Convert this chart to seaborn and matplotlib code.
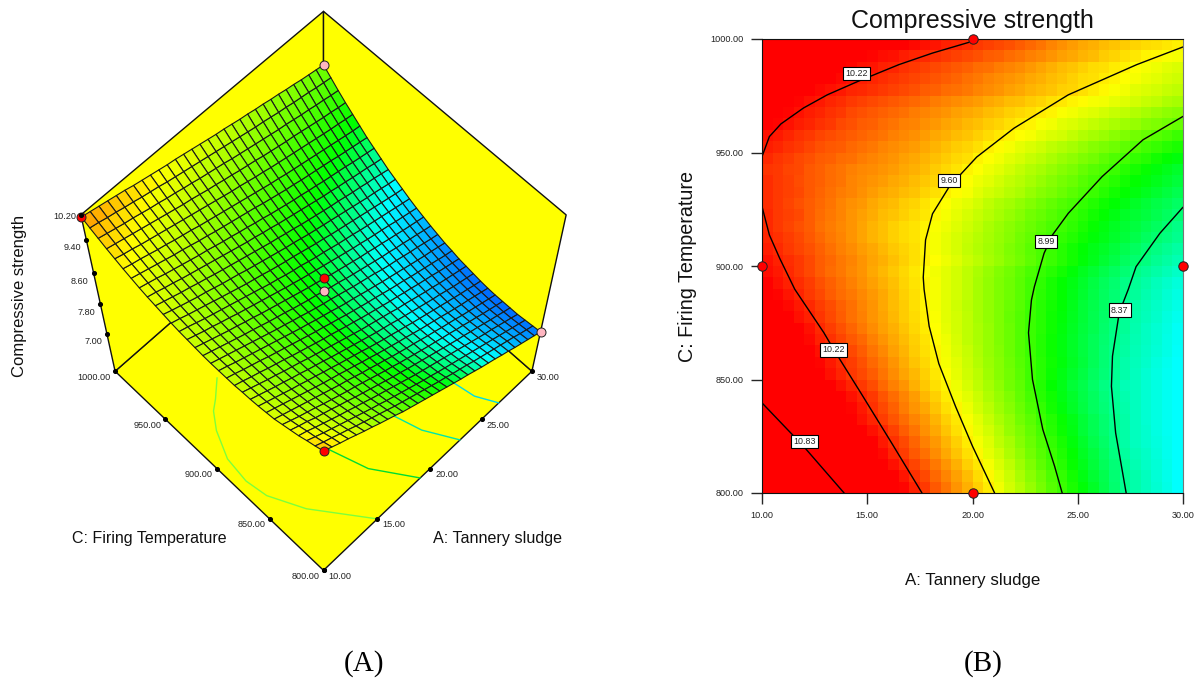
import matplotlib
matplotlib.use('Agg')
import numpy as np
import pandas as pd
import matplotlib.pyplot as plt
from matplotlib.colors import LinearSegmentedColormap, Normalize
from mpl_toolkits.mplot3d import proj3d
from mpl_toolkits.mplot3d.art3d import Poly3DCollection
import seaborn as sns

sns.set_style("white")
plt.rcParams['font.family'] = ['Liberation Sans', 'DejaVu Sans']

W, H = 1194, 681

# mesh of panel A, 31 x 31, strength x100 (rows: 800 -> 1000, cols: 10 -> 30)
surf_a = [10 + i * 2 / 3 for i in range(31)]
surf_c = [800 + i * 20 / 3 for i in range(31)]
surf_z = np.array([
    [989,978,967,957,946,935,925,914,904,894,883,874,865,856,847,838,829,820,811,803,794,785,777,769,760,752,743,735,727,719,711],
    [981,970,960,949,939,928,918,908,898,888,878,869,860,851,842,833,824,816,807,799,791,782,774,766,758,750,742,734,725,717,709],
    [974,963,952,942,932,922,912,902,892,883,873,864,855,846,837,828,820,811,803,795,787,779,771,763,755,747,739,731,723,715,707],
    [966,957,946,936,926,916,907,897,888,878,869,860,851,842,833,824,816,808,800,792,784,776,768,760,752,744,737,729,721,713,705],
    [960,950,941,930,921,912,902,893,883,874,865,856,847,838,830,821,813,805,797,789,781,773,765,758,750,743,735,727,720,712,705],
    [954,944,934,925,916,906,897,888,879,871,862,853,844,835,827,818,810,802,794,786,779,771,764,756,749,741,734,726,719,712,705],
    [948,939,930,921,912,903,894,885,876,868,859,850,842,833,825,816,808,800,793,785,777,770,762,755,748,740,733,726,719,712,705],
    [945,936,927,918,909,900,891,882,874,866,857,849,840,832,823,815,807,799,792,784,776,769,762,755,747,740,733,727,720,713,706],
    [942,933,924,915,906,898,889,881,872,864,855,847,839,831,822,814,806,799,791,784,776,769,762,755,748,741,734,727,721,714,708],
    [940,931,922,913,905,896,888,879,871,863,854,846,838,830,822,814,806,799,792,784,777,770,763,756,749,743,736,729,723,717,711],
    [939,930,921,912,904,895,887,879,870,862,854,846,838,830,822,814,807,800,793,786,778,772,765,758,751,745,738,732,726,720,714],
    [937,929,920,912,903,895,887,878,870,862,854,846,839,831,823,816,808,801,794,787,780,774,767,761,754,748,742,735,729,723,717],
    [937,929,920,912,904,895,887,879,871,863,855,847,840,832,825,817,810,803,796,790,783,776,770,764,757,751,745,739,733,727,722],
    [937,929,920,912,904,896,888,880,872,864,856,849,841,834,827,819,812,806,799,792,786,779,773,767,761,755,749,743,738,732,726],
    [937,929,921,913,905,897,889,881,873,866,858,851,843,836,829,823,816,809,802,796,790,784,777,771,766,760,754,749,743,737,732],
    [938,930,922,914,906,898,891,883,875,868,861,853,846,839,833,826,819,813,806,800,794,788,782,776,771,765,760,754,749,743,738],
    [940,932,924,916,908,901,893,886,878,871,864,857,850,843,836,830,824,817,811,805,799,793,788,782,777,771,766,760,755,750,745],
    [942,934,926,919,911,904,896,889,882,875,868,861,854,848,841,835,829,823,817,811,805,799,794,788,783,778,773,767,762,757,752],
    [944,937,929,921,914,907,900,893,886,879,872,865,859,852,846,841,834,828,823,817,811,806,801,795,790,785,780,775,770,765,760],
    [947,940,932,925,918,911,904,897,890,883,877,871,864,858,852,847,841,835,829,824,818,813,808,803,798,793,788,783,778,773,769],
    [951,943,936,929,922,916,909,902,896,890,883,877,871,865,859,853,848,842,836,831,826,821,816,811,806,801,796,792,787,782,778],
    [955,948,941,934,928,921,915,908,902,896,890,884,878,872,866,861,855,850,844,839,834,829,824,820,815,810,806,801,797,792,787],
    [959,953,946,940,933,927,921,915,909,903,897,891,885,880,874,869,863,858,853,848,843,838,833,829,824,820,815,811,807,802,798],
    [964,958,952,945,939,933,927,921,916,910,904,899,893,888,882,877,871,866,861,856,852,847,843,838,834,830,826,821,817,813,809],
    [970,964,958,952,946,940,935,929,923,918,912,907,902,897,892,887,881,876,871,866,862,857,853,849,845,841,836,832,828,824,820],
    [976,970,965,959,953,948,942,937,932,926,921,916,911,906,901,896,891,886,881,877,872,868,864,860,856,852,848,844,840,836,833],
    [983,977,972,966,961,956,951,946,941,936,931,926,921,916,911,907,902,897,893,888,884,880,876,872,868,864,860,856,853,849,846],
    [990,985,980,975,970,965,960,955,950,945,941,936,931,927,922,918,913,909,905,900,896,892,888,885,881,877,873,869,866,862,859],
    [998,993,988,983,979,974,969,965,960,956,951,947,942,938,934,930,925,921,917,913,909,905,901,898,894,890,887,883,880,876,873],
    [1006,1002,997,993,988,984,979,975,971,966,962,958,954,950,946,942,938,934,930,926,922,919,915,911,908,904,901,898,894,891,888],
    [1015,1011,1007,1003,999,995,990,986,982,978,974,971,967,963,959,955,951,948,944,940,937,933,930,926,923,919,916,912,909,906,903]]) / 100

# colour cells of panel B, 40 x 40, x100 (rows: 800 -> 1000, cols: 10 -> 30)
heat = np.array([
    [1132,1125,1118,1111,1104,1097,1089,1082,1074,1066,1058,1050,1041,1033,1025,1017,1008,999,990,981,972,963,953,944,935,925,916,906,897,888,878,868,857,847,837,829,822,816,810,803],
    [1126,1119,1112,1104,1097,1090,1082,1075,1067,1060,1052,1044,1036,1028,1020,1012,1003,995,986,977,968,959,950,941,932,922,913,904,895,885,875,865,856,846,836,828,822,815,809,803],
    [1118,1111,1104,1097,1091,1083,1076,1069,1061,1054,1046,1038,1030,1022,1014,1006,998,989,981,972,964,955,946,937,928,918,909,900,891,882,872,863,853,844,834,826,820,815,809,803],
    [1110,1103,1097,1090,1083,1076,1069,1062,1054,1047,1039,1032,1024,1016,1008,1000,992,983,975,967,959,950,942,933,924,915,906,897,889,880,870,861,851,842,832,825,820,814,808,803],
    [1103,1096,1090,1083,1076,1069,1063,1056,1049,1043,1035,1027,1020,1012,1004,996,988,980,971,963,955,947,938,930,921,912,904,895,887,877,867,858,849,840,830,823,818,813,808,803],
    [1095,1089,1083,1076,1070,1064,1058,1051,1045,1039,1030,1023,1015,1007,999,991,983,975,967,959,951,943,935,926,918,910,901,892,883,874,864,855,847,838,830,823,818,812,807,803],
    [1088,1082,1076,1070,1064,1058,1052,1044,1037,1030,1023,1016,1009,1002,995,988,980,972,964,956,948,940,932,924,915,907,898,890,882,873,864,855,847,838,830,822,817,812,807,803],
    [1081,1075,1070,1064,1058,1052,1046,1039,1033,1027,1020,1012,1005,997,990,983,975,967,960,952,944,936,928,920,912,904,895,886,877,869,860,852,844,836,828,822,817,812,807,803],
    [1074,1069,1064,1058,1053,1047,1041,1035,1029,1024,1017,1009,1002,994,987,979,971,963,955,948,941,933,926,918,910,901,892,884,875,867,859,851,843,835,827,822,817,812,807,803],
    [1067,1062,1057,1052,1047,1041,1035,1029,1024,1018,1011,1003,996,989,981,974,967,960,952,945,938,930,923,915,908,899,890,881,873,864,857,849,841,833,825,822,817,812,807,803],
    [1062,1057,1052,1047,1042,1036,1030,1024,1018,1013,1006,999,992,985,979,971,964,957,950,942,936,928,921,914,907,899,891,883,875,867,860,852,844,836,828,822,817,812,807,803],
    [1059,1054,1049,1044,1039,1033,1027,1021,1016,1010,1003,997,990,982,975,969,962,955,948,941,934,927,920,913,906,899,891,884,877,870,862,854,845,837,829,824,819,813,808,803],
    [1055,1050,1045,1040,1035,1029,1023,1017,1012,1006,999,993,986,980,973,967,960,953,946,940,933,926,919,912,905,898,890,883,876,869,861,854,846,838,831,825,820,815,810,804],
    [1052,1047,1042,1037,1032,1025,1020,1014,1008,1003,996,990,984,977,971,965,958,952,945,938,932,925,918,912,905,898,890,883,876,868,861,854,847,839,832,826,821,816,810,805],
    [1049,1044,1039,1034,1029,1022,1016,1010,1004,998,992,986,981,975,969,963,957,950,944,937,931,925,918,912,905,898,891,884,877,870,863,856,848,841,834,827,821,816,811,806],
    [1045,1040,1035,1030,1025,1019,1013,1007,1001,996,990,985,979,973,968,962,956,949,943,937,930,924,918,911,905,898,891,884,878,871,864,856,849,842,834,829,824,819,813,808],
    [1042,1037,1032,1027,1022,1016,1011,1005,1000,994,989,984,978,973,967,961,955,949,942,936,930,924,918,912,906,898,892,885,879,872,864,857,850,843,835,830,825,820,815,810],
    [1038,1033,1028,1023,1018,1012,1007,1002,998,993,988,983,978,972,967,961,955,949,943,937,930,924,918,913,907,900,893,887,880,873,866,859,852,846,839,833,827,822,816,811],
    [1034,1030,1025,1021,1016,1010,1005,1000,996,991,986,981,976,970,965,960,955,949,943,937,930,924,918,913,907,900,894,887,881,874,867,860,853,847,840,835,830,824,819,814],
    [1031,1027,1022,1017,1013,1007,1002,998,993,989,984,979,974,969,964,958,953,948,943,937,931,925,919,914,908,902,896,891,885,878,871,865,858,852,845,840,835,830,825,820],
    [1029,1025,1021,1017,1012,1007,1003,998,994,989,985,981,976,972,967,962,957,952,947,941,936,930,925,919,914,908,902,897,891,885,878,872,865,859,852,847,842,836,831,826],
    [1026,1022,1018,1014,1010,1005,1001,996,992,987,983,979,974,970,966,960,955,950,945,939,934,929,924,918,913,907,902,897,891,886,879,873,868,862,856,851,846,841,836,831],
    [1024,1020,1016,1012,1008,1003,998,994,989,985,980,976,972,968,965,960,955,950,945,940,935,930,925,920,915,910,905,900,895,890,884,878,873,867,862,857,852,847,842,837],
    [1022,1018,1014,1010,1006,1001,997,993,989,985,980,976,972,968,965,960,956,952,947,942,937,932,927,922,917,912,907,903,899,894,888,882,876,870,865,861,856,851,846,840],
    [1022,1018,1015,1012,1007,1002,998,994,990,986,982,978,975,972,968,964,959,954,950,945,940,935,930,925,920,915,911,906,901,896,891,885,880,874,869,865,861,856,851,846],
    [1021,1018,1014,1010,1007,1003,999,995,991,988,984,980,977,973,970,965,961,957,952,948,943,938,933,929,924,919,915,910,905,901,895,890,884,879,874,869,864,859,855,850],
    [1021,1018,1015,1012,1008,1004,1001,997,994,991,987,984,981,978,975,970,966,962,958,954,949,944,940,935,931,926,921,917,912,907,902,897,891,886,881,876,871,866,861,856],
    [1021,1018,1015,1011,1008,1005,1002,999,995,992,989,987,984,981,978,974,970,965,961,957,952,948,943,939,935,930,925,921,916,912,906,901,896,891,886,881,877,872,867,862],
    [1019,1017,1014,1012,1008,1005,1002,999,996,993,992,990,987,984,981,977,973,969,965,961,957,952,948,943,939,934,930,925,921,917,911,906,902,897,892,887,882,877,872,867],
    [1022,1019,1016,1013,1010,1007,1005,1002,1000,997,995,992,989,986,983,980,976,973,969,966,961,957,953,949,945,940,936,932,927,923,918,914,909,904,900,895,891,886,881,877],
    [1026,1023,1020,1017,1014,1010,1008,1006,1003,1000,998,995,992,989,987,983,980,976,973,970,966,962,958,954,950,946,942,938,934,930,925,921,917,913,909,905,900,896,892,888],
    [1030,1027,1023,1020,1017,1014,1011,1009,1006,1004,1002,999,996,993,991,987,984,981,978,975,971,968,964,961,957,954,950,946,943,939,934,930,927,922,918,915,911,906,902,898],
    [1037,1033,1030,1026,1023,1020,1017,1013,1010,1007,1005,1002,999,996,994,991,988,985,982,979,976,973,970,967,963,960,956,953,949,946,942,939,935,932,928,925,921,918,914,911],
    [1040,1036,1033,1029,1026,1023,1020,1017,1013,1010,1008,1005,1003,1000,997,995,992,989,986,983,981,978,975,972,969,966,963,960,956,953,950,947,944,940,937,934,930,927,923,920],
    [1045,1041,1037,1033,1030,1027,1024,1021,1018,1015,1013,1010,1008,1005,1003,1000,997,995,992,990,987,984,981,978,976,973,970,967,964,961,958,955,953,950,947,943,940,937,933,930],
    [1049,1045,1042,1038,1035,1032,1029,1027,1024,1022,1020,1017,1015,1012,1010,1007,1005,1002,1000,998,995,992,989,986,983,980,978,975,972,970,966,963,959,956,953,949,946,943,940,937],
    [1053,1050,1046,1043,1040,1037,1034,1032,1029,1026,1024,1021,1019,1016,1014,1011,1009,1006,1004,1001,998,995,992,989,987,984,981,978,975,972,968,966,963,960,957,954,951,948,945,942],
    [1055,1052,1049,1046,1043,1040,1037,1035,1033,1030,1028,1025,1023,1020,1018,1015,1013,1010,1008,1005,1002,1000,997,995,992,988,985,981,978,975,971,968,966,963,960,957,954,952,949,946],
    [1058,1056,1053,1050,1047,1045,1043,1040,1037,1035,1033,1031,1029,1026,1024,1022,1020,1017,1015,1013,1010,1007,1005,1002,999,996,993,990,986,983,980,977,973,970,967,964,961,959,956,954],
    [1062,1060,1058,1056,1053,1051,1050,1047,1045,1043,1041,1039,1036,1034,1032,1030,1028,1025,1023,1021,1018,1015,1012,1010,1007,1003,999,995,991,987,984,981,978,975,973,970,968,966,964,962]]) / 100

# contour lines: (sludge, temperature)
lines_b = [
    ([20.35, 20, 18.1, 16.5, 14.55, 13.1, 11.97, 10.9, 10.35, 10],
     [1000, 999, 993.8, 988.7, 981.3, 975.4, 969.6, 962.6, 957, 948.2]),
    ([10, 10.35, 10.84, 11.56, 12.94, 13.42, 14.7, 16.16, 17.6],
     [926.2, 913.7, 903.4, 889.7, 870.6, 863, 844, 822, 800]),
    ([10, 11.97, 13.9], [839.7, 820.6, 800]),
    ([30, 27.8, 24.55, 21.97, 20.2, 19.4, 18.9, 18.1, 17.77, 17.66, 17.7, 17.94, 18.4, 19.2, 20, 21.05],
     [996.5, 988.7, 975.4, 960.7, 948, 940, 935, 923, 911.5, 895, 889.7, 873.5, 857, 838, 820.6, 800]),
    ([30, 28.1, 26.16, 24.55, 23.8, 23.4, 22.94, 22.8, 22.66, 22.85, 23.34, 23.9, 24.26],
     [965.9, 955.6, 939.4, 923.2, 913.7, 905.6, 890.9, 885, 870.6, 850, 828, 811.8, 800]),
    ([30, 28.9, 27.77, 27.4, 26.97, 26.65, 26.6, 26.8, 27.3],
     [925.9, 914.4, 899.7, 889.7, 879.4, 860.3, 847, 826.5, 800]),
]
label_a = [14.5, 18.9, 23.5, 27, 13.4, 12]
label_c = [984.7, 937.6, 910.7, 880.6, 863, 822.8]
label_txt = ['10.22', '9.60', '8.99', '8.37', '10.22', '10.83']

point_a = [20, 10, 30, 20]
point_c = [1000, 900, 900, 800]

# contours on the floor of panel A
base_lines = [
    ([14.56, 13.4, 12.7, 11.86, 10.97, 10.75, 11, 12.2, 13.6, 15],
     [947.6, 937, 931.6, 920, 900, 880, 863, 838, 819, 800], '#7dff3c'),
    ([16.2, 17.1, 19.06], [857.6, 829, 800], '#00dc32'),
    ([21, 21.6, 22.9], [844, 823, 800], '#00e6aa'),
    ([25.6, 25.9, 26.7], [833, 815, 800], '#00dce6'),
]

a_ticks = [10, 15, 20, 25, 30]
c_ticks = [800, 850, 900, 950, 1000]
z_ticks = [7.0, 7.8, 8.6, 9.4, 10.2]
# the strength ticks in panel A are not evenly spread, heights as read off
z_tick_pos = [7.05, 7.9, 8.75, 9.6, 10.2]

Z_FLOOR, Z_TOP = 5.9, 10.2

stops = ['#0000ff', '#00ffff', '#00ff00', '#ffff00', '#ff0000']
cmap_b = LinearSegmentedColormap.from_list('rsm', stops)
cmap_a = LinearSegmentedColormap.from_list('rsm_a', list(zip([0, .275, .4226, .759, 1], stops)))
norm_a = Normalize(6.63, 10.7)

fig = plt.figure(figsize=(W / 100, H / 100), dpi=100)

# ---- panel A
L = 555
ax3 = fig.add_axes([(323.5 - .5135 * L) / W, (H - 299 - .5135 * L) / H, L / W, L / H],
                   projection='3d', computed_zorder=False)
ax3.set_xlim(10, 30, view_margin=0)
ax3.set_ylim(800, 1000, view_margin=0)
ax3.set_zlim(Z_FLOOR, Z_TOP, view_margin=0)
ax3.set_box_aspect((1.1, 1.1, 1.23))
ax3.set_proj_type('persp', focal_length=0.70)
ax3.view_init(elev=64, azim=-135)
ax3.set_axis_off()

walls = [
    [(10, 800, Z_FLOOR), (30, 800, Z_FLOOR), (30, 1000, Z_FLOOR), (10, 1000, Z_FLOOR)],
    [(10, 1000, Z_FLOOR), (30, 1000, Z_FLOOR), (30, 1000, Z_TOP), (10, 1000, Z_TOP)],
    [(30, 800, Z_FLOOR), (30, 1000, Z_FLOOR), (30, 1000, Z_TOP), (30, 800, Z_TOP)],
]
wall_poly = Poly3DCollection(walls, facecolors='#ffff00', edgecolors='#111111', linewidths=1, zorder=1)
ax3.add_collection3d(wall_poly)
wall_poly.set_clip_on(False)

for xs, ys, col in base_lines:
    ax3.plot(xs, ys, [Z_FLOOR] * len(xs), color=col, lw=1, zorder=2, clip_on=False)

X, Y = np.meshgrid(surf_a, surf_c)
surf = ax3.plot_surface(X, Y, surf_z, facecolors=cmap_a(norm_a(surf_z)), shade=False,
                        rstride=1, cstride=1, zorder=3)
surf.set_edgecolor('#1a1a1a')
surf.set_linewidth(.8)
surf.set_clip_on(False)

red_pts = ([10, 20, 10], [1000, 900, 800], [10.15, 8.62, 9.89])
pink_pts = ([30, 20, 30], [1000, 900, 800], [9.03, 8.26, 7.11])
ax3.scatter(*pink_pts, s=42, c='#ffb6c1', edgecolors='#222222', linewidths=.7, depthshade=False, zorder=4, clip_on=False)
ax3.scatter(*red_pts, s=42, c='#ff0000', edgecolors='#222222', linewidths=.7, depthshade=False, zorder=5, clip_on=False)

def tick3d(x, y, z, txt, dx, dy, ha):
    # dot on the box edge, label placed next to it on screen
    ax3.scatter([x], [y], [z], s=7, c='k', depthshade=False, zorder=6, clip_on=False)
    x2, y2, _ = proj3d.proj_transform(x, y, z, ax3.get_proj())
    ax3.annotate(txt, (x2, y2), xytext=(dx, dy), textcoords='offset pixels', ha=ha, va='center',
                 fontsize=6.6, color='#222222', zorder=7, annotation_clip=False)

for c in c_ticks:
    tick3d(10, c, Z_FLOOR, f'{c:.2f}', -4, -6, 'right')
for a in a_ticks:
    tick3d(a, 800, Z_FLOOR, f'{a:.2f}', 5, -6, 'left')
for z, zp in zip(z_ticks, z_tick_pos):
    tick3d(10, 1000, zp, f'{z:.2f}', -5, -8 if z < 10 else -2, 'right')

fig.text(149 / W, 1 - 539 / H, 'C: Firing Temperature', ha='center', va='center', fontsize=11.5, color='#111111')
fig.text(498 / W, 1 - 539 / H, 'A: Tannery sludge', ha='center', va='center', fontsize=11.6, color='#111111')
fig.text(20 / W, 1 - 296 / H, 'Compressive strength', rotation=90, ha='center', va='center', fontsize=12, color='#111111')

# ---- panel B
pos = [762 / W, (H - 493) / H, 421 / W, 454 / H]
ax = fig.add_axes(pos)
sns.heatmap(pd.DataFrame(heat[::-1]), cmap=cmap_b, vmin=7.25, vmax=10.35, cbar=False,
            xticklabels=False, yticklabels=False, ax=ax)

ax2 = fig.add_axes(pos, facecolor='none')
for xs, ys in lines_b:
    sns.lineplot(x=xs, y=ys, sort=False, estimator=None, color='k', lw=1, ax=ax2)
for a, c, t in zip(label_a, label_c, label_txt):
    ax2.text(a, c, t, ha='center', va='center', fontsize=6.4, color='#222222',
             bbox=dict(boxstyle='square,pad=0.25', fc='white', ec='k', lw=.8))
ax2.scatter(point_a, point_c, s=46, c='#ff0000', edgecolors='#222222', linewidths=.7, clip_on=False, zorder=5)
ax2.set_xlim(10, 30)
ax2.set_ylim(800, 1000)
ax2.set_xticks(a_ticks, [f'{a:.2f}' for a in a_ticks])
ax2.set_yticks(c_ticks, [f'{c:.2f}' for c in c_ticks])
ax2.tick_params(length=8, width=1, labelsize=6.6, pad=5, labelcolor='#222222', left=True, bottom=True)
for s in ['top', 'left', 'bottom']:
    ax2.spines[s].set_color('#111111')
ax2.spines['right'].set_color('#777777')
ax2.set_xlabel('A: Tannery sludge', fontsize=12.2, labelpad=38, color='#111111')
ax2.set_ylabel('C: Firing Temperature', fontsize=14.2, labelpad=10, color='#111111')

fig.text(972 / W, 1 - 21 / H, 'Compressive strength', ha='center', va='center', fontsize=18, color='#111111')
fig.text(364 / W, 1 - 664 / H, '(A)', ha='center', va='center', fontsize=21, family=['Liberation Serif'], color='k')
fig.text(983 / W, 1 - 664 / H, '(B)', ha='center', va='center', fontsize=21, family=['Liberation Serif'], color='k')

plt.savefig('out.png', dpi=100)
